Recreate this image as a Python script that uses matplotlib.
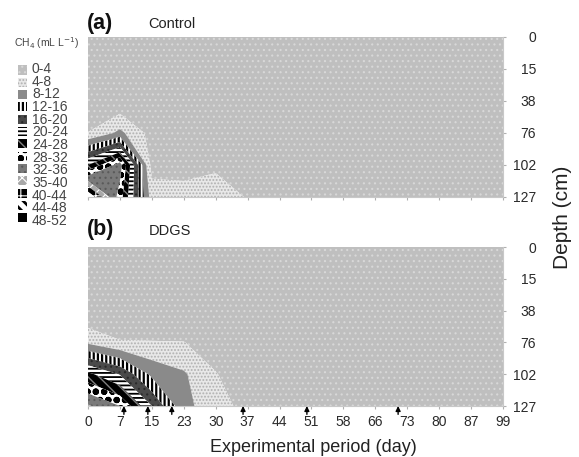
import numpy as np
import matplotlib
matplotlib.use("Agg")
import matplotlib.pyplot as plt
from matplotlib.patches import Rectangle

plt.rcParams['font.family'] = ['Liberation Sans', 'DejaVu Sans']

# ---------------- data ----------------
days = [0, 7, 15, 23, 30, 37, 44, 51, 58, 66, 73, 80, 87, 99]
depths = [0, 15, 38, 76, 102, 127]
levels = [0, 4, 8, 12, 16, 20, 24, 28, 32, 36, 40, 44, 48, 52]
level_labels = ["0-4", "4-8", "8-12", "12-16", "16-20", "20-24", "24-28",
                "28-32", "32-36", "35-40", "40-44", "44-48", "48-52"]

# CH4 concentration (mL/L), rows = depth, columns = day
control = [
    [0.5, 0.5, 0.5, 0.5, 0.5, 0.5, 0.5, 0.5, 0.5, 0.5, 0.5, 0.5, 0.5, 0.5],
    [0.5, 0.5, 0.5, 0.5, 0.5, 0.5, 0.5, 0.5, 0.5, 0.5, 0.5, 0.5, 0.5, 0.5],
    [1.0, 0.7, 0.5, 0.5, 0.5, 0.5, 0.5, 0.5, 0.5, 0.5, 0.5, 0.5, 0.5, 0.5],
    [4.1, 9.0, 2.5, 0.5, 0.5, 0.5, 0.5, 0.5, 0.5, 0.5, 0.5, 0.5, 0.5, 0.5],
    [24.0, 34.0, 2.5, 2.0, 3.0, 1.0, 0.5, 0.5, 0.5, 0.5, 0.5, 0.5, 0.5, 0.5],
    [48.0, 30.0, 6.0, 6.0, 7.0, 3.6, 1.0, 0.5, 0.5, 0.5, 0.5, 0.5, 0.5, 0.5],
]
ddgs = [
    [0.5, 0.5, 0.5, 0.5, 0.5, 0.5, 0.5, 0.5, 0.5, 0.5, 0.5, 0.5, 0.5, 0.5],
    [0.5, 0.5, 0.5, 0.5, 0.5, 0.5, 0.5, 0.5, 0.5, 0.5, 0.5, 0.5, 0.5, 0.5],
    [0.2, 0.5, 0.2, 0.3, 0.5, 0.5, 0.5, 0.5, 0.5, 0.5, 0.5, 0.5, 0.5, 0.5],
    [7.2, 4.3, 4.2, 4.1, 2.0, 1.0, 0.5, 0.5, 0.5, 0.5, 0.5, 0.5, 0.5, 0.5],
    [25.0, 19.7, 11.0, 8.5, 4.2, 1.5, 0.5, 0.5, 0.5, 0.5, 0.5, 0.5, 0.5, 0.5],
    [36.5, 32.0, 20.0, 9.0, 6.0, 2.4, 0.5, 0.5, 0.5, 0.5, 0.5, 0.5, 0.5, 0.5],
]
arrow_days = [8, 14, 20, 36, 50, 71]

# ---------------- styles ----------------
# (face colour, hatch, hatch colour, hatch linewidth)
styles = [
    ('#bfbfbf', '...', '#d8d8d8', 0.8),
    ('#e8e8e8', '.....', '#b0b0b0', 0.9),
    ('#8a8a8a', None, '#8a8a8a', 0.8),
    ('#ffffff', '||||', '#000000', 1.6),
    ('#4a4a4a', '...', '#2a2a2a', 0.8),
    ('#ffffff', '----', '#000000', 1.3),
    ('#000000', '\\\\\\', '#808080', 1.0),
    ('#ffffff', 'oo', '#000000', 2.2),
    ('#7a7a7a', '...', '#5a5a5a', 0.8),
    ('#a8a8a8', 'xxx', '#ffffff', 0.8),
    ('#000000', '++', '#ffffff', 0.8),
    ('#ffffff', '\\\\\\', '#000000', 2.0),
    ('#000000', None, '#000000', 0.8),
]

W, H = 579, 457
fig = plt.figure(figsize=(W / 100, H / 100), dpi=100)


def fx(px):
    return px / W


def fy(py):
    return 1 - py / H


ax_a = fig.add_axes([fx(88), fy(197), fx(503) - fx(88), fy(37) - fy(197)])
ax_b = fig.add_axes([fx(88), fy(406), fx(503) - fx(88), fy(247) - fy(406)])

xi = np.arange(len(days))
yi = np.arange(len(depths))
X, Y = np.meshgrid(xi, yi)


def draw_panel(ax, data):
    Z = np.array(data, dtype=float)
    for k, (face, hatch, hc, hlw) in enumerate(styles):
        lo, hi = levels[k], levels[k + 1]
        if not (Z.min() < hi and Z.max() >= lo):
            continue
        with plt.rc_context({'hatch.color': hc, 'hatch.linewidth': hlw}):
            ax.contourf(X, Y, Z, levels=[lo, hi], colors=[face],
                        hatches=[hatch], antialiased=True)
    ax.set_xlim(0, len(days) - 1)
    ax.set_ylim(len(depths) - 1, 0)
    ax.set_xticks(xi)
    ax.set_yticks(yi)
    ax.set_yticklabels([str(d) for d in depths])
    ax.yaxis.tick_right()
    for s in ['left', 'top']:
        ax.spines[s].set_visible(False)
    for s in ['bottom', 'right']:
        ax.spines[s].set_color('#c8c8c8')
        ax.spines[s].set_linewidth(0.8)
    ax.tick_params(axis='both', direction='out', length=2.5, width=0.8,
                   color='#b0b0b0', labelsize=10, labelcolor='#2a2a2a')
    ax.tick_params(axis='y', pad=21.3)
    for t in ax.get_yticklabels():
        t.set_horizontalalignment('right')


draw_panel(ax_a, control)
draw_panel(ax_b, ddgs)
ax_a.set_xticklabels([])
ax_b.set_xticklabels([str(d) for d in days])
ax_b.tick_params(axis='x', pad=4)

# arrows on panel b
arrow_x = np.interp(arrow_days, days, xi)
for x in arrow_x:
    ax_b.annotate('', xy=(x, 0), xycoords=ax_b.get_xaxis_transform(),
                  xytext=(0, -6), textcoords='offset points',
                  arrowprops=dict(arrowstyle='-|>', color='black', lw=1.0,
                                  mutation_scale=7, shrinkA=0, shrinkB=0),
                  annotation_clip=False)

# titles
fig.text(fx(87), fy(23), '(a)', fontsize=15.5, fontweight='bold',
         ha='left', va='center', color='#111111')
fig.text(fx(148), fy(24), 'Control', fontsize=10.5, ha='left', va='center',
         color='#222222')
fig.text(fx(87), fy(229), '(b)', fontsize=15.5, fontweight='bold',
         ha='left', va='center', color='#111111')
fig.text(fx(149), fy(231), 'DDGS', fontsize=10.5, ha='left', va='center',
         color='#222222')

fig.text(fx(313), fy(447), 'Experimental period (day)', fontsize=13,
         ha='center', va='center', color='#222222')
fig.text(fx(563), fy(217), 'Depth (cm)', fontsize=15, rotation=90,
         ha='center', va='center', color='#222222')

# legend (drawn manually)
fig.text(fx(14), fy(43), 'CH$_4$ (mL L$^{-1}$)', fontsize=7.5,
         ha='left', va='center', color='#444444')
y0, dy, sz = 70.0, 12.33, 9.0
for i, (face, hatch, hc, hlw) in enumerate(styles):
    yc = y0 + i * dy
    with plt.rc_context({'hatch.linewidth': hlw}):
        r = Rectangle((fx(18), fy(yc + sz / 2)), fx(sz), sz / H,
                      transform=fig.transFigure, facecolor=face,
                      edgecolor=hc, hatch=hatch, linewidth=0)
    fig.add_artist(r)
yc_mid = y0 + dy * (len(level_labels) - 1) / 2 + 1.0
fig.text(fx(32), fy(yc_mid), "\n".join(level_labels), fontsize=10,
         linespacing=0.877, ha='left', va='center', color='#444444')

fig.savefig('out.png', dpi=100)
